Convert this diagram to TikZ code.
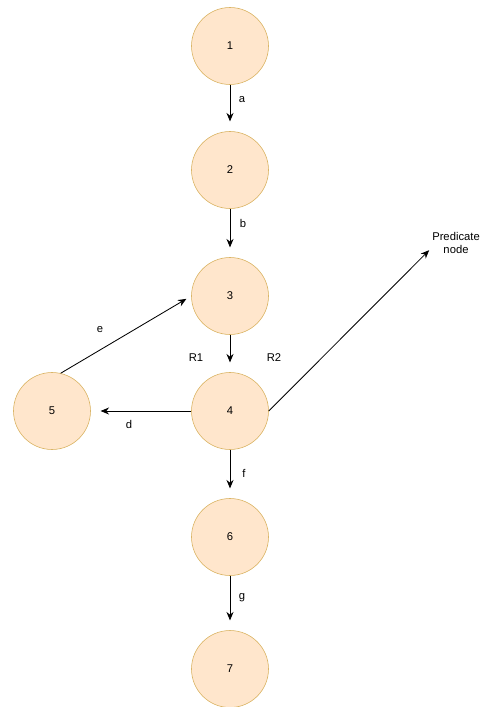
\documentclass[tikz,border=0pt]{standalone}
\usepackage{fontspec}
\setmainfont{Liberation Sans}
\usetikzlibrary{arrows.meta}

\definecolor{nodefill}{RGB}{255,230,204}
\definecolor{nodeline}{RGB}{215,175,90}

\tikzset{
	state/.style  = {circle, fill=nodefill, draw=nodeline, minimum size=1.925cm, inner sep=0pt},
	flow/.style   = {-{Stealth[length=6pt,width=5pt]}, line width=0.6pt, shorten >=7pt},
	lbl/.style    = {inner sep=1pt},
}

\begin{document}
\begin{tikzpicture}[font=\fontsize{8}{9.5}\selectfont]
	\useasboundingbox (0,0) rectangle (12.15,-17.675);

	%% Draw states
    \node[state] (n1) at (5.75,-1.15)   {1};
    \node[state] (n2) at (5.75,-4.25)   {2};
    \node[state] (n3) at (5.75,-7.4)    {3};
    \node[state] (n4) at (5.75,-10.275) {4};
    \node[state] (n5) at (1.3,-10.275)  {5};
    \node[state] (n6) at (5.75,-13.425) {6};
    \node[state] (n7) at (5.75,-16.725) {7};

    \node[align=center, inner sep=2pt] (pred) at (11.4,-6.075) {Predicate\\node};

	%% Draw edges
    \draw[flow] (n1) -- (n2);
    \draw[flow] (n2) -- (n3);
    \draw[flow] (n3) -- (n4);
    \draw[flow] (n4) -- (n5);
    \draw[flow, shorten >=4pt] (n5.77) -- (n3.west);
    \draw[flow, shorten >=0pt] (n4.east) -- (pred.195);
    \draw[flow] (n4) -- (n6);
    \draw[flow] (n6) -- (n7);

	%% Draw edge labels
    \node[lbl] (la) at (6.05,-2.5)    {a};
    \node[lbl] (lb) at (6.075,-5.575) {b};
    \node[lbl] (lr1) at (4.9,-8.95)   {R1};
    \node[lbl] (lr2) at (6.85,-8.95)  {R2};
    \node[lbl] (ld) at (3.225,-10.6)  {d};
    \node[lbl] (le) at (2.5,-8.25)    {e};
    \node[lbl] (lf) at (6.1,-11.825)  {f};
    \node[lbl] (lg) at (6.05,-14.95)  {g};
\end{tikzpicture}
\end{document}
